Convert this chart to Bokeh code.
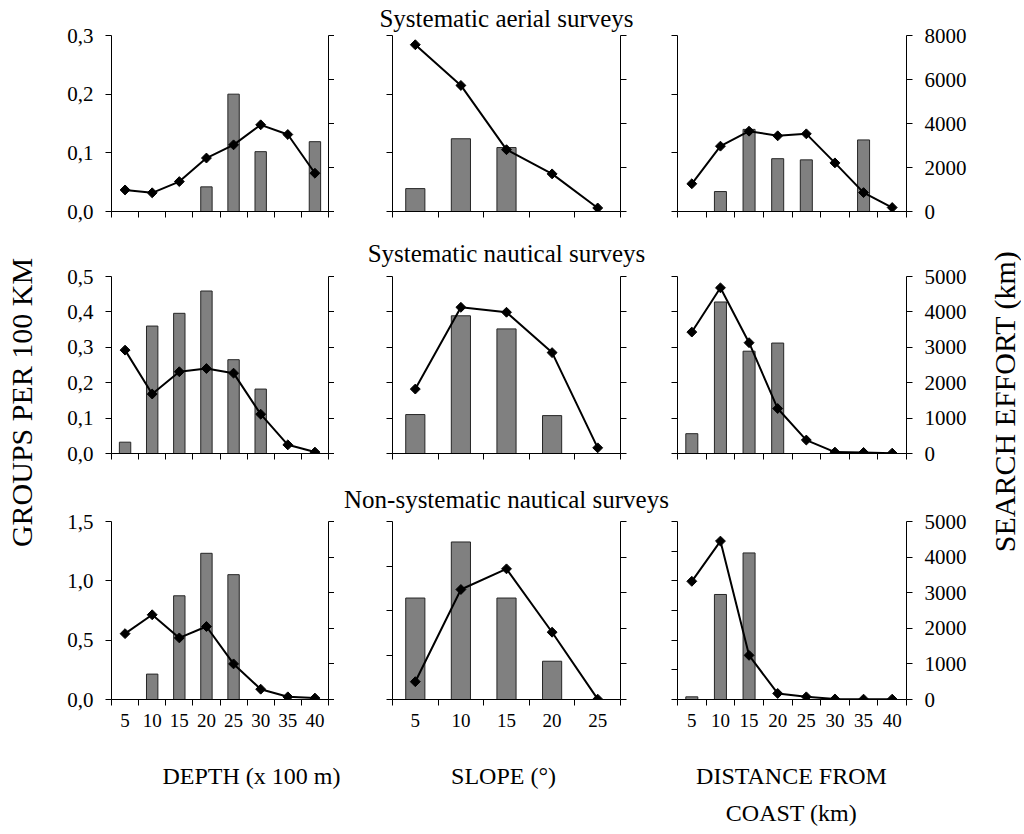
import math
from bokeh.plotting import figure
from bokeh.layouts import row, column
from bokeh.models import (Range1d, LinearAxis, FixedTicker, CustomJSTickFormatter,
                          Label, ColumnDataSource)
from bokeh.embed import file_html
from bokeh.resources import INLINE

FONT = "Liberation Serif"

# ---------------- data ----------------
depth_classes = [5, 10, 15, 20, 25, 30, 35, 40]
slope_classes = [5, 10, 15, 20, 25]
distance_classes = [5, 10, 15, 20, 25, 30, 35, 40]

row_titles = ["Systematic aerial surveys", "Systematic nautical surveys",
              "Non-systematic nautical surveys"]
x_title_depth = "DEPTH (x 100 m)"
x_title_slope = "SLOPE (°)"
x_title_dist_1 = "DISTANCE FROM"
x_title_dist_2 = "COAST (km)"
left_title = "GROUPS PER 100 KM"
right_title = "SEARCH EFFORT (km)"

# groups per 100 km (bars) and search effort in km (line)
aerial_depth_groups = [0, 0, 0, 0.042, 0.200, 0.102, 0, 0.119]
aerial_depth_effort = [980, 850, 1360, 2430, 3030, 3940, 3500, 1740]
aerial_slope_groups = [0.039, 0.124, 0.109, 0, 0]
aerial_slope_effort = [7580, 5730, 2810, 1710, 160]
aerial_dist_groups = [0, 0.034, 0.140, 0.090, 0.088, 0, 0.122, 0]
aerial_dist_effort = [1260, 2970, 3650, 3440, 3530, 2210, 860, 180]

nautical_depth_groups = [0.032, 0.360, 0.396, 0.459, 0.265, 0.182, 0, 0]
nautical_depth_effort = [2920, 1680, 2310, 2400, 2270, 1110, 245, 40]
nautical_slope_groups = [0.110, 0.389, 0.352, 0.107, 0]
nautical_slope_effort = [1820, 4130, 3990, 2850, 160]
nautical_dist_groups = [0.056, 0.428, 0.289, 0.312, 0, 0, 0, 0]
nautical_dist_effort = [3430, 4680, 3130, 1270, 380, 40, 30, 10]

nonsys_depth_groups = [0, 0.214, 0.874, 1.232, 1.052, 0, 0, 0]
nonsys_depth_effort = [1850, 2380, 1730, 2050, 1000, 290, 75, 40]
nonsys_slope_groups = [1.14, 1.77, 1.14, 0.43, 0]
nonsys_slope_effort = [500, 3090, 3670, 1890, 10]
nonsys_dist_groups = [0.045, 1.77, 2.47, 0, 0, 0, 0, 0]
nonsys_dist_effort = [3320, 4450, 1240, 170, 75, 15, 10, 10]

# axis scales
left_max = [[0.3, 0.3, 0.3], [0.5, 0.5, 0.5], [1.5, 2.0, 3.0]]
left_step = [[0.1, 0.1, 0.1], [0.1, 0.1, 0.1], [0.5, 0.5, 0.5]]
effort_max = [8000, 5000, 5000]
effort_step = [2000, 1000, 1000]

panels = [
    [(depth_classes, aerial_depth_groups, aerial_depth_effort),
     (slope_classes, aerial_slope_groups, aerial_slope_effort),
     (distance_classes, aerial_dist_groups, aerial_dist_effort)],
    [(depth_classes, nautical_depth_groups, nautical_depth_effort),
     (slope_classes, nautical_slope_groups, nautical_slope_effort),
     (distance_classes, nautical_dist_groups, nautical_dist_effort)],
    [(depth_classes, nonsys_depth_groups, nonsys_depth_effort),
     (slope_classes, nonsys_slope_groups, nonsys_slope_effort),
     (distance_classes, nonsys_dist_groups, nonsys_dist_effort)],
]

# ---------------- layout geometry (pixels) ----------------
LEFT_W = 58
RIGHT_W = 36
col_w = [276, 337, 314]
col_bl = [53, 58, 6]
col_br = [6, 51, 79]
row_h = [232, 244, 269]
row_bt = [35, 44, 45]
row_bb = [21, 23, 46]
title_standoff = [4, 10, 9]
STRIP_H = 86
GRID_W = sum(col_w)
TOTAL_H = sum(row_h) + STRIP_H

BLANK = CustomJSTickFormatter(code="return ''")
COMMA1 = CustomJSTickFormatter(code="return tick.toFixed(1).replace('.', ',')")
INT0 = CustomJSTickFormatter(code="return tick.toFixed(0)")


def make_panel(r, c):
    cats, groups, effort = panels[r][c]
    lmax, lstep = left_max[r][c], left_step[r][c]
    emax, estep = effort_max[r], effort_step[r]
    x0, x1 = cats[0] - 2.5, cats[-1] + 2.5
    p = figure(width=col_w[c], height=row_h[r], output_backend="svg",
               toolbar_location=None, x_range=Range1d(x0, x1),
               y_range=Range1d(0, lmax), x_axis_type=None, y_axis_type=None,
               title=None,
               min_border_left=col_bl[c], min_border_right=col_br[c],
               min_border_top=row_bt[r], min_border_bottom=row_bb[r])
    p.outline_line_color = None
    p.background_fill_color = "white"
    p.border_fill_color = "white"

    bounds = [x0 + 5 * i for i in range(len(cats) + 1)]
    xa = LinearAxis(ticker=FixedTicker(ticks=cats, minor_ticks=bounds),
                    formatter=(INT0 if r == 2 else BLANK))
    xa.major_tick_line_color = None
    xa.major_tick_out = 6
    xa.major_tick_in = 0
    xa.minor_tick_out = 6
    xa.minor_tick_in = 0
    xa.minor_tick_line_color = "black"
    xa.axis_line_color = "black"
    xa.major_label_standoff = 8 if r == 2 else 0
    xa.major_label_text_font = FONT
    xa.major_label_text_font_size = "19px"
    xa.major_label_text_color = "black"
    p.add_layout(xa, "below")

    n = int(round(lmax / lstep))
    lticks = [round(i * lstep, 3) for i in range(n + 1)]
    ya = LinearAxis(ticker=FixedTicker(ticks=lticks),
                    formatter=(COMMA1 if c == 0 else BLANK))
    ya.major_tick_out = 6
    ya.major_tick_in = 0
    ya.minor_tick_line_color = None
    ya.axis_line_color = "black"
    ya.major_label_standoff = 12 if c == 0 else 0
    ya.major_label_text_font = FONT
    ya.major_label_text_font_size = "21px"
    ya.major_label_text_color = "black"
    p.add_layout(ya, "left")

    p.extra_y_ranges = {"effort": Range1d(0, emax)}
    m = int(round(emax / estep))
    eticks = [i * estep for i in range(m + 1)]
    ra = LinearAxis(y_range_name="effort", ticker=FixedTicker(ticks=eticks),
                    formatter=(INT0 if c == 2 else BLANK))
    ra.major_tick_out = 6
    ra.major_tick_in = 0
    ra.minor_tick_line_color = None
    ra.axis_line_color = "black"
    ra.major_label_standoff = 12 if c == 2 else 0
    ra.major_label_text_font = FONT
    ra.major_label_text_font_size = "21px"
    ra.major_label_text_color = "black"
    p.add_layout(ra, "right")

    if c == 1:
        ta = LinearAxis(ticker=FixedTicker(ticks=[]), axis_label=row_titles[r])
        ta.axis_line_color = None
        ta.major_tick_line_color = None
        ta.minor_tick_line_color = None
        ta.major_tick_out = 0
        ta.minor_tick_out = 0
        ta.major_label_standoff = 0
        ta.axis_label_standoff = title_standoff[r]
        ta.axis_label_text_font = FONT
        ta.axis_label_text_font_size = "25px"
        ta.axis_label_text_font_style = "normal"
        ta.axis_label_text_color = "black"
        p.add_layout(ta, "above")

    bx = [x for x, g in zip(cats, groups) if g > 0]
    bt = [g for g in groups if g > 0]
    p.vbar(x="x", top="top", width=2.1, bottom=0,
           source=ColumnDataSource(dict(x=bx, top=bt)),
           fill_color="#808080", line_color="#262626", line_width=1)

    src = ColumnDataSource(dict(x=cats, y=effort))
    p.line("x", "y", source=src, y_range_name="effort", line_color="black",
           line_width=2)
    p.scatter("x", "y", source=src, y_range_name="effort", marker="square",
              angle=math.pi / 4, size=7, fill_color="black", line_color="black")
    return p


def blank_fig(w, h):
    f = figure(width=w, height=h, output_backend="svg", toolbar_location=None,
               x_range=Range1d(0, w), y_range=Range1d(0, h), title=None,
               x_axis_type=None, y_axis_type=None, min_border=0)
    f.outline_line_color = None
    f.grid.visible = False
    return f


grid_rows = []
for r in range(3):
    grid_rows.append(row(*[make_panel(r, c) for c in range(3)], spacing=0))

# strip for the x-axis titles
STRIP_TOP = sum(row_h)
strip = blank_fig(GRID_W, STRIP_H)
for t, gx, gy in [(x_title_depth, 251, 775), (x_title_slope, 503, 775),
                  (x_title_dist_1, 791, 775), (x_title_dist_2, 791, 812)]:
    strip.add_layout(Label(x=gx - LEFT_W, y=STRIP_H - (gy - STRIP_TOP), text=t,
                           text_align="center", text_baseline="middle",
                           text_font=FONT, text_font_size="24px",
                           text_color="black"))

grid = column(*grid_rows, strip, spacing=0)


def side_fig(w, text, page_x, page_y, x_off):
    f = blank_fig(w, TOTAL_H)
    f.add_layout(Label(x=page_x - x_off, y=TOTAL_H - page_y, text=text,
                       angle=math.pi / 2, text_align="center",
                       text_baseline="middle", text_font=FONT,
                       text_font_size="30px", text_color="black"))
    return f


left_fig = side_fig(LEFT_W, left_title, 21, 402, 0)
right_fig = side_fig(RIGHT_W, right_title, 1004, 401, LEFT_W + GRID_W)

layout = row(left_fig, grid, right_fig, spacing=0)

open("out.html", "w").write(file_html(layout, INLINE))
